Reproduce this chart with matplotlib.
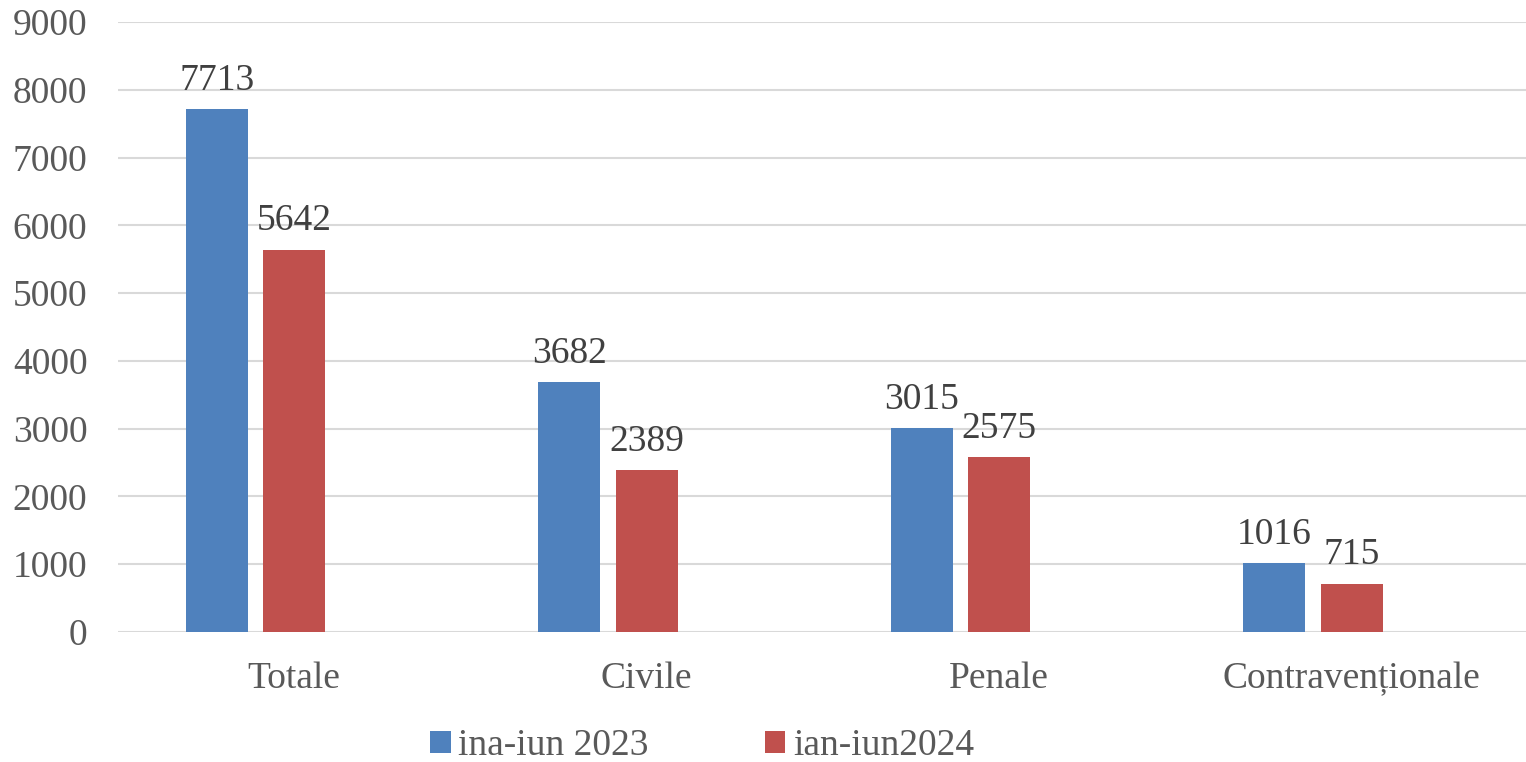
import numpy as np
import matplotlib.pyplot as plt

categorii = ['Totale', 'Civile', 'Penale', 'Contravenționale']
serie_2023 = [7713, 3682, 3015, 1016]
serie_2024 = [5642, 2389, 2575, 715]
etichete = ['ina-iun 2023', 'ian-iun2024']
yticks = [0, 1000, 2000, 3000, 4000, 5000, 6000, 7000, 8000, 9000]

plt.rcParams['font.family'] = ['Liberation Serif', 'DejaVu Serif']

fig = plt.figure(figsize=(15.26, 7.62), dpi=100)
ax = fig.add_axes([118/1526, 1 - 632/762, (1528 - 118)/1526, (632 - 22)/762])

x = np.arange(len(categorii))
w = 0.175
b1 = ax.bar(x - 0.22, serie_2023, w, color='#4F81BD', label=etichete[0], zorder=3)
b2 = ax.bar(x, serie_2024, w, color='#C0504D', label=etichete[1], zorder=3)

# etichete de date deasupra barelor
for bars in (b1, b2):
    for r in bars:
        ax.annotate(str(int(r.get_height())), (r.get_x() + r.get_width()/2, r.get_height()),
                    xytext=(0, 8), textcoords='offset points',
                    ha='center', va='bottom', fontsize=27, color='#404040', zorder=4)

ax.set_xlim(-0.5, len(categorii) - 0.5)
ax.set_ylim(0, 9000)
ax.set_yticks(yticks)
ax.set_xticks(x)
ax.set_xticklabels(categorii)
ax.tick_params(axis='both', length=0, labelsize=27, labelcolor='#595959')
ax.tick_params(axis='x', pad=21)
ax.tick_params(axis='y', pad=22)
ax.grid(axis='y', color='#D9D9D9', linewidth=1.5, zorder=0)
for s in ax.spines.values():
    s.set_visible(False)

fig.legend(loc='center', bbox_to_anchor=(0.46, 1 - 746/762), ncol=2, frameon=False,
           fontsize=27, handlelength=0.55, handleheight=0.55, handletextpad=0.2,
           columnspacing=3.1, labelcolor='#595959')

fig.savefig('out.png', dpi=100)
